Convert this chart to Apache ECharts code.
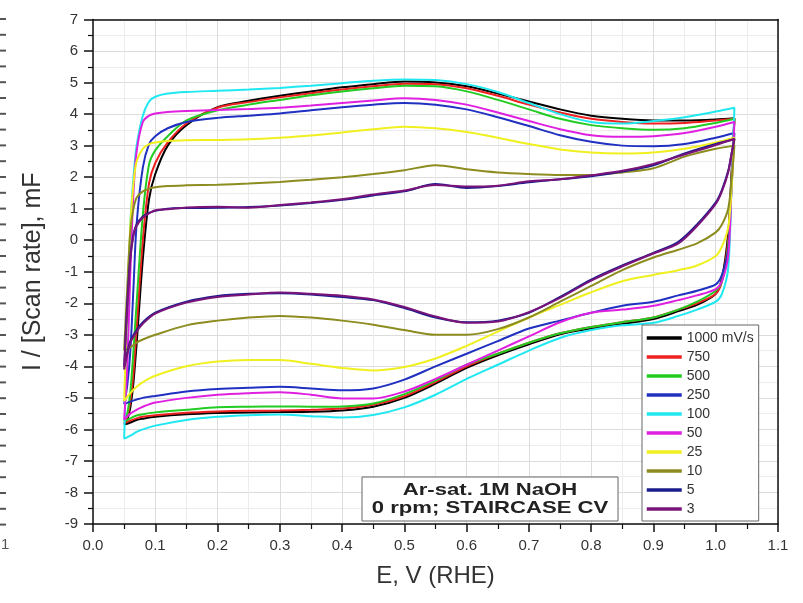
<!DOCTYPE html>
<html><head><meta charset="utf-8">
<script src="https://cdn.jsdelivr.net/npm/echarts@6/dist/echarts.min.js"></script>
<style>html,body{margin:0;padding:0;background:#fff}#c{width:803px;height:603px}</style>
</head><body><div id="c"></div>
<script>
// Potential grids (V vs RHE): anodic sweep then cathodic sweep
const E_UP = [0.05,0.055,0.06,0.065,0.07,0.08,0.09,0.1,0.12,0.15,0.2,0.25,0.3,0.35,0.4,0.45,0.5,0.55,0.6,0.65,0.7,0.75,0.8,0.85,0.9,0.95,1.0,1.03];
const E_DN = [1.03,1.025,1.02,1.01,1.0,0.97,0.94,0.9,0.85,0.8,0.75,0.7,0.65,0.6,0.55,0.5,0.45,0.4,0.35,0.3,0.25,0.2,0.15,0.1,0.08,0.07,0.06,0.05];

const RATE_LABELS = ['1000 mV/s','750','500','250','100','50','25','10','5','3'];
const X_TICKS = [0,0.1,0.2,0.3,0.4,0.5,0.6,0.7,0.8,0.9,1.0,1.1];
const Y_TICKS = [-9,-8,-7,-6,-5,-4,-3,-2,-1,0,1,2,3,4,5,6,7];

const UP_1000 = [-5.85,-5.7,-5.3,-4.5,-3.3,-0.6,1.3,2.1,3.0,3.65,4.22,4.42,4.58,4.72,4.85,4.95,5.03,5.0,4.88,4.65,4.4,4.15,3.95,3.85,3.8,3.8,3.83,3.87];
const DN_1000 = [3.87,2.0,0.2,-1.2,-1.7,-2.05,-2.25,-2.5,-2.65,-2.8,-2.98,-3.3,-3.65,-4.05,-4.55,-5.0,-5.28,-5.4,-5.44,-5.45,-5.46,-5.48,-5.52,-5.6,-5.66,-5.7,-5.78,-5.85];
const UP_750 = [-5.8,-5.6,-5.1,-4.2,-2.8,0.0,1.8,2.45,3.1,3.7,4.2,4.38,4.53,4.66,4.78,4.88,4.96,4.95,4.82,4.58,4.3,4.05,3.85,3.75,3.7,3.72,3.8,3.85];
const DN_750 = [3.85,1.8,0.0,-1.3,-1.7,-2.0,-2.2,-2.45,-2.6,-2.75,-2.95,-3.25,-3.6,-4.0,-4.5,-4.95,-5.22,-5.34,-5.38,-5.4,-5.41,-5.43,-5.47,-5.55,-5.6,-5.65,-5.72,-5.8];
const UP_500 = [-5.75,-5.5,-4.8,-3.5,-2.0,0.8,2.4,2.85,3.3,3.8,4.12,4.3,4.45,4.6,4.72,4.82,4.9,4.88,4.72,4.45,4.15,3.85,3.65,3.55,3.5,3.55,3.72,3.85];
const DN_500 = [3.85,1.6,-0.2,-1.3,-1.6,-1.95,-2.2,-2.45,-2.6,-2.75,-2.95,-3.25,-3.6,-3.95,-4.45,-4.88,-5.18,-5.27,-5.28,-5.27,-5.28,-5.3,-5.38,-5.46,-5.52,-5.56,-5.65,-5.75];
const UP_250 = [-5.2,-4.6,-3.5,-1.5,0.5,2.3,3.05,3.3,3.55,3.75,3.88,3.95,4.02,4.12,4.22,4.3,4.35,4.3,4.15,3.9,3.62,3.33,3.12,3.0,2.98,3.05,3.25,3.4];
const DN_250 = [3.4,1.5,-0.3,-1.1,-1.4,-1.6,-1.75,-1.95,-2.08,-2.3,-2.55,-2.8,-3.2,-3.6,-4.0,-4.42,-4.7,-4.76,-4.7,-4.65,-4.68,-4.72,-4.8,-4.94,-5.0,-5.05,-5.12,-5.2];
const UP_100 = [-6.3,-3.0,0.5,2.0,3.0,3.95,4.4,4.55,4.65,4.7,4.74,4.78,4.83,4.9,4.98,5.06,5.1,5.08,4.95,4.7,4.35,4.0,3.75,3.7,3.78,3.9,4.08,4.2];
const DN_100 = [4.2,1.5,-0.9,-1.7,-1.95,-2.2,-2.4,-2.62,-2.7,-2.85,-3.1,-3.5,-3.95,-4.4,-4.9,-5.3,-5.54,-5.62,-5.58,-5.53,-5.55,-5.6,-5.7,-5.88,-6.0,-6.08,-6.2,-6.3];
const UP_50 = [-5.7,-4.0,-1.0,1.5,2.8,3.75,3.95,4.02,4.07,4.1,4.13,4.16,4.2,4.27,4.35,4.43,4.5,4.45,4.3,4.05,3.78,3.52,3.33,3.28,3.3,3.4,3.6,3.75];
const DN_50 = [3.75,1.5,-0.5,-1.3,-1.55,-1.75,-1.9,-2.08,-2.2,-2.3,-2.6,-3.05,-3.5,-3.95,-4.4,-4.8,-5.02,-5.02,-4.9,-4.82,-4.85,-4.9,-5.0,-5.15,-5.28,-5.38,-5.5,-5.7];
const UP_25 = [-5.1,-2.0,0.5,1.8,2.5,2.9,3.05,3.1,3.15,3.17,3.18,3.2,3.25,3.32,3.42,3.52,3.6,3.55,3.43,3.25,3.05,2.88,2.78,2.75,2.78,2.9,3.1,3.25];
const DN_25 = [3.25,1.5,0.4,-0.2,-0.5,-0.8,-0.95,-1.1,-1.3,-1.65,-2.05,-2.45,-2.9,-3.35,-3.75,-4.02,-4.13,-4.05,-3.92,-3.8,-3.8,-3.85,-4.0,-4.3,-4.5,-4.65,-4.85,-5.1];
const UP_10 = [-3.5,-1.5,0.3,1.0,1.35,1.55,1.63,1.68,1.72,1.74,1.76,1.8,1.85,1.92,2.0,2.1,2.22,2.38,2.25,2.15,2.1,2.07,2.07,2.15,2.28,2.65,2.9,3.0];
const DN_10 = [3.0,1.8,1.0,0.5,0.25,-0.1,-0.3,-0.55,-0.95,-1.45,-1.95,-2.45,-2.82,-3.0,-3.0,-2.85,-2.68,-2.55,-2.45,-2.4,-2.45,-2.55,-2.7,-3.0,-3.15,-3.25,-3.4,-3.5];
const UP_5 = [-4.0,-2.0,-0.5,0.2,0.5,0.75,0.87,0.93,1.0,1.02,1.03,1.05,1.1,1.18,1.28,1.42,1.55,1.78,1.66,1.72,1.84,1.93,2.03,2.18,2.38,2.75,3.05,3.2];
const DN_5 = [3.2,2.7,2.2,1.6,1.2,0.5,-0.05,-0.4,-0.8,-1.25,-1.8,-2.3,-2.55,-2.6,-2.45,-2.15,-1.9,-1.8,-1.72,-1.68,-1.7,-1.77,-1.95,-2.3,-2.6,-2.85,-3.2,-4.0];
const UP_3 = [-4.1,-2.2,-0.6,0.15,0.45,0.72,0.85,0.95,0.98,1.04,1.06,1.03,1.12,1.2,1.3,1.45,1.58,1.75,1.7,1.73,1.87,1.93,2.06,2.2,2.42,2.72,3.02,3.22];
const DN_3 = [3.22,2.7,2.15,1.55,1.15,0.45,-0.1,-0.42,-0.83,-1.28,-1.83,-2.28,-2.58,-2.62,-2.42,-2.12,-1.88,-1.76,-1.7,-1.66,-1.72,-1.8,-1.98,-2.33,-2.65,-2.9,-3.25,-4.1];

const UPS = [UP_1000,UP_750,UP_500,UP_250,UP_100,UP_50,UP_25,UP_10,UP_5,UP_3];
const DNS = [DN_1000,DN_750,DN_500,DN_250,DN_100,DN_50,DN_25,DN_10,DN_5,DN_3];
const COLORS = ['#000000','#ee2020','#22cc22','#2030c0','#20e8f0','#e020e0','#f0f020','#8c8c20','#1c1c8c','#7a147a'];

const series = RATE_LABELS.map((name, k) => ({
  name: name,
  type: 'line',
  xAxisIndex: 0, yAxisIndex: 0,
  symbol: 'none',
  smooth: 0.3,
  lineStyle: {width: 2, color: COLORS[k]},
  itemStyle: {color: COLORS[k]},
  data: E_UP.map((e, i) => [e, UPS[k][i]]).concat(E_DN.map((e, i) => [e, DNS[k][i]]))
}));

const gridLine = {show: true, lineStyle: {color: '#dcdcdc', width: 1}};
const minorLine = {show: true, lineStyle: {color: '#ececec', width: 1}};
const labelFont = {fontFamily: 'Liberation Sans, Arial, sans-serif', fontSize: 15, color: '#333'};

// decorative fragments of a neighbouring cropped plot on the left edge
const leftBits = [];
for (let y = 19; y <= 528; y += 15.8) {
  leftBits.push({type: 'rect', shape: {x: 0, y: y - 1, width: 6, height: 2}, style: {fill: '#555'}, silent: true});
}
leftBits.push({type: 'text', left: 1, top: 537, style: {text: '1', font: '15px Liberation Sans, Arial', fill: '#555'}});

const boxFont = 'bold 17px Liberation Sans, Arial';
const chart = echarts.init(document.getElementById('c'), null, {renderer: 'canvas'});
chart.setOption({
  backgroundColor: '#fff',
  animation: false,
  grid: {left: 93, right: 25, top: 19.5, bottom: 79, containLabel: false},
  xAxis: [{
    type: 'value', min: 0, max: 1.1, interval: 0.1,
    name: 'E, V (RHE)', nameLocation: 'middle', nameGap: 40,
    nameTextStyle: {fontFamily: 'Liberation Sans, Arial, sans-serif', fontSize: 24, color: '#333'},
    axisLine: {show: true, onZero: false, lineStyle: {color: '#111', width: 1.5}},
    axisTick: {show: true, length: 8, lineStyle: {color: '#111', width: 1.5}},
    minorTick: {show: true, splitNumber: 2, length: 5, lineStyle: {color: '#111', width: 1.2}},
    axisLabel: Object.assign({margin: 14, formatter: v => v.toFixed(1)}, labelFont),
    splitLine: gridLine, minorSplitLine: minorLine
  }, {
    type: 'value', position: 'top', min: 0, max: 1.1, interval: 0.1,
    axisLine: {show: true, onZero: false, lineStyle: {color: '#111', width: 1.5}},
    axisTick: {show: false}, axisLabel: {show: false}, splitLine: {show: false}
  }],
  yAxis: [{
    type: 'value', min: -9, max: 7, interval: 1,
    name: 'I / [Scan rate], mF', nameLocation: 'middle', nameGap: 47, nameRotate: 90,
    nameTextStyle: {fontFamily: 'Liberation Sans, Arial, sans-serif', fontSize: 25, color: '#333'},
    axisLine: {show: true, onZero: false, lineStyle: {color: '#111', width: 1.5}},
    axisTick: {show: true, length: 9, lineStyle: {color: '#111', width: 1.5}},
    minorTick: {show: true, splitNumber: 2, length: 5, lineStyle: {color: '#111', width: 1.2}},
    axisLabel: Object.assign({margin: 15}, labelFont),
    splitLine: gridLine, minorSplitLine: minorLine
  }, {
    type: 'value', position: 'right', min: -9, max: 7, interval: 1,
    axisLine: {show: true, onZero: false, lineStyle: {color: '#111', width: 1.5}},
    axisTick: {show: false}, axisLabel: {show: false}, splitLine: {show: false}
  }],
  legend: {
    orient: 'vertical', left: 642, top: 325,
    data: RATE_LABELS,
    itemWidth: 35, itemHeight: 14, itemGap: 5,
    padding: [6, 5, 5, 3],
    backgroundColor: '#fff', borderColor: '#666', borderWidth: 1,
    lineStyle: {width: 3.5},
    itemStyle: {opacity: 0},
    textStyle: {fontFamily: 'Liberation Sans, Arial, sans-serif', fontSize: 14, color: '#333'}
  },
  graphic: leftBits.concat([
    {type: 'rect', z: 100, shape: {x: 362, y: 477, width: 256, height: 44}, style: {fill: '#fff', stroke: '#666', lineWidth: 1}},
    {type: 'text', z: 101, x: 490, y: 490, scaleX: 1.3, style: {x: 0, y: 0, text: 'Ar-sat. 1M NaOH', align: 'center', verticalAlign: 'middle', font: boxFont, fill: '#222'}},
    {type: 'text', z: 101, x: 490, y: 508, scaleX: 1.3, style: {x: 0, y: 0, text: '0 rpm; STAIRCASE CV', align: 'center', verticalAlign: 'middle', font: boxFont, fill: '#222'}}
  ]),
  series: series
});
</script>
</body></html>
